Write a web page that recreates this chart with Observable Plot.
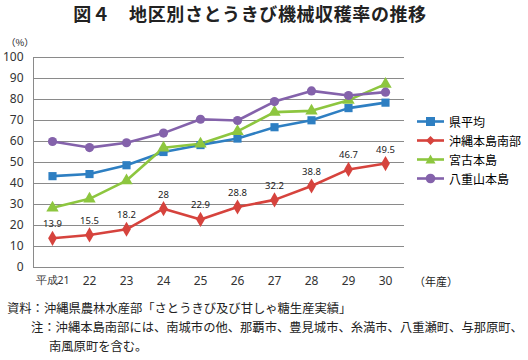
<!DOCTYPE html>
<html><head><meta charset="utf-8">
<script src="https://cdn.jsdelivr.net/npm/d3@7"></script>
<script src="https://cdn.jsdelivr.net/npm/@observablehq/plot@0.6"></script>
<style>
body{margin:0;background:#fff;font-family:"Noto Sans CJK JP","Noto Sans",sans-serif;}
#wrap{position:relative;width:528px;height:360px;overflow:hidden;}
.t{position:absolute;white-space:nowrap;color:#222;line-height:1;}
#title{left:0;width:500px;text-align:center;top:4px;font-size:18px;font-weight:bold;letter-spacing:0.6px;}
#unit{left:6px;top:38px;font-size:9.5px;}
#nendo{left:414px;top:276px;font-size:11px;}
.note{font-size:12.3px;}
#legend{position:absolute;left:415px;top:112px;font-size:12px;}
#legend div{height:19px;display:flex;align-items:center;}
#legend svg{margin-right:2px;}
#plot{position:absolute;left:0;top:0;}
</style></head><body>
<div id="wrap">
<div id="plot"></div>
<div class="t" id="title">図４　地区別さとうきび機械収穫率の推移</div>
<div class="t" id="unit">（%）</div>
<div class="t" id="nendo">（年産）</div>
<div class="t note" style="left:7px;top:302px;">資料：沖縄県農林水産部「さとうきび及び甘しゃ糖生産実績」</div>
<div class="t note" style="left:31px;top:321px;">注：沖縄本島南部には、南城市の他、那覇市、豊見城市、糸満市、八重瀬町、与那原町、</div>
<div class="t note" style="left:49px;top:340px;">南風原町を含む。</div>
<div id="legend"></div>
</div>
<script>
const years = ["平成21","22","23","24","25","26","27","28","29","30"];
const seriesNames = ["県平均","沖縄本島南部","宮古本島","八重山本島"];
const kenHeikin = [43.5,44.5,48.7,55.0,58.3,61.4,66.8,70.1,75.9,78.5];
const okinawaNanbu = [13.9,15.5,18.2,28,22.9,28.8,32.2,38.8,46.7,49.5];
const miyako = [28.4,32.7,41.4,57.0,58.9,64.8,74.0,74.6,79.7,87.3];
const yaeyama = [60.0,57.1,59.4,64.0,70.6,70.0,79.0,84.1,81.9,83.5];
const colors = ["#2e7fc2","#d6433d","#8dc63f","#8462ab"];
const symbols = ["square","diamond","triangle","circle"];
const yTicks = [0,10,20,30,40,50,60,70,80,90,100];

const allVals = [kenHeikin, okinawaNanbu, miyako, yaeyama];
const data = [];
allVals.forEach((arr, si) => arr.forEach((v, i) => data.push({year: years[i], value: v, series: seriesNames[si]})));
const labelData = okinawaNanbu.map((v, i) => ({year: years[i], value: v}));

const chart = Plot.plot({
  width: 528, height: 360,
  marginTop: 57, marginBottom: 93, marginLeft: 33, marginRight: 124,
  style: {fontFamily: "'Noto Sans','DejaVu Sans',sans-serif", fontSize: "12px", color: "#333", background: "transparent"},
  x: {type: "point", domain: years, padding: 0.5, label: null},
  y: {domain: [0, 100], ticks: yTicks, label: null, tickSize: 0, tickPadding: 10},
  color: {domain: seriesNames, range: colors},
  symbol: {domain: seriesNames, range: symbols},
  marks: [
    Plot.ruleY(yTicks, {stroke: "#8a8a8a", strokeWidth: 1}),
    Plot.frame({anchor: "left", stroke: "#8a8a8a"}),
    Plot.axisX({tickSize: 0, tickPadding: 9, fontSize: d => d === years[0] ? 10.5 : 12, label: null}),
    Plot.lineY(data, {x: "year", y: "value", z: "series", stroke: "series", strokeWidth: 2.6}),
    Plot.dot(data, {x: "year", y: "value", fill: "series", symbol: "series", r: 4.6, stroke: "none"}),
    Plot.text(labelData, {x: "year", y: "value", text: d => String(d.value), dy: -14, fontSize: 9.5, fill: "#222"})
  ]
});
document.getElementById("plot").appendChild(chart);

const lg = document.getElementById("legend");
const shapes = {
  square: '<rect x="11" y="5" width="9" height="9"/>',
  diamond: '<path d="M15.5 5 L20 9.5 L15.5 14 L11 9.5Z"/>',
  triangle: '<path d="M15.5 4.5 L20.5 13.5 L10.5 13.5Z"/>',
  circle: '<circle cx="15.5" cy="9.5" r="4.8"/>'
};
seriesNames.forEach((n, i) => {
  const d = document.createElement("div");
  d.innerHTML = `<svg width="32" height="19"><line x1="2" x2="29" y1="9.5" y2="9.5" stroke="${colors[i]}" stroke-width="2.6"/><g fill="${colors[i]}">${shapes[symbols[i]]}</g></svg><span>${n}</span>`;
  lg.appendChild(d);
});
</script>
</body></html>
